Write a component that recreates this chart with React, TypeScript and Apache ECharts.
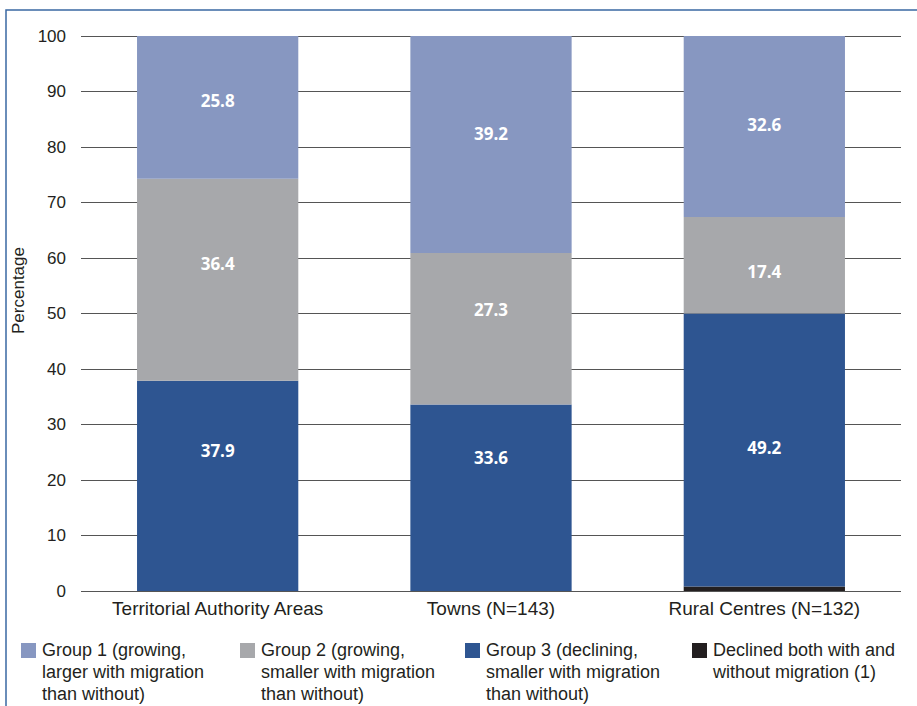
import React, { useEffect, useRef } from "react";
import * as echarts from "echarts";

const categories = ["Territorial Authority Areas", "Towns (N=143)", "Rural Centres (N=132)"];
const seriesNames = [
  "Declined both with and\nwithout migration (1)",
  "Group 3 (declining,\nsmaller with migration\nthan without)",
  "Group 2 (growing,\nsmaller with migration\nthan without)",
  "Group 1 (growing,\nlarger with migration\nthan without)",
];
const declinedBoth = [0, 0, 0.8];
const group3 = [37.9, 33.6, 49.2];
const group2 = [36.4, 27.3, 17.4];
const group1 = [25.8, 39.2, 32.6];
const yTicks = [0, 100, 10];

const colors = ["#231f20", "#2e5591", "#a7a8ab", "#8797c1"];
const labelOffsets = [
  [0, 0, 0],
  [-35, -40, -3],
  [-16, -19, 6],
  [-7, -11, -2],
];
const legendOrder = [3, 2, 1, 0];
const legendX = [21, 240, 465, 692];
const FONT = "'Liberation Sans', Arial, sans-serif";

export default function App() {
  const ref = useRef<HTMLDivElement>(null);
  useEffect(() => {
    document.body.style.margin = "0";
    const chart = echarts.init(ref.current!, undefined, { renderer: "svg" });
    const values = [declinedBoth, group3, group2, group1];
    const series = values.map((vals, si) => ({
      type: "bar",
      name: seriesNames[si],
      stack: "total",
      barWidth: "59%",
      itemStyle: { color: colors[si] },
      data: vals.map((v, ci) => ({
        value: v,
        label: {
          show: si > 0,
          position: "inside",
          offset: [0, labelOffsets[si][ci]],
          color: "#ffffff",
          fontSize: 17,
          fontWeight: "bold",
          fontFamily: "'Open Sans', sans-serif",
          formatter: (p: any) => p.value.toFixed(1),
        },
      })),
    }));
    const legendGraphics: any[] = [];
    legendOrder.forEach((si, i) => {
      legendGraphics.push({
        type: "rect",
        shape: { x: legendX[i], y: 643, width: 15, height: 15 },
        style: { fill: colors[si] },
      });
      legendGraphics.push({
        type: "text",
        x: legendX[i] + 21,
        y: 639,
        style: {
          text: seriesNames[si],
          font: `18px ${FONT}`,
          fill: "#231f20",
          lineHeight: 22,
          verticalAlign: "top",
        },
      });
    });
    chart.setOption({
      animation: false,
      grid: { left: 81, right: 16, top: 36, bottom: 115 },
      xAxis: {
        type: "category",
        data: categories,
        axisLine: { show: false },
        axisTick: { show: false },
        axisLabel: { color: "#231f20", fontSize: 19, fontFamily: FONT, margin: 8, interval: 0 },
      },
      yAxis: {
        type: "value",
        min: yTicks[0],
        max: yTicks[1],
        interval: yTicks[2],
        name: "Percentage",
        nameLocation: "middle",
        nameGap: 50,
        nameTextStyle: {
          color: "#231f20",
          fontSize: 17,
          fontFamily: FONT,
          padding: [0, 0, 0, 46],
        },
        axisLine: { show: false },
        axisTick: { show: false },
        axisLabel: { color: "#231f20", fontSize: 17, fontFamily: FONT, margin: 15 },
        splitLine: { lineStyle: { color: "#555555", width: 1 } },
      },
      series,
      graphic: [
        {
          type: "rect",
          shape: { x: 6, y: 10, width: 1200, height: 1200 },
          style: { fill: "none", stroke: "#3a68a3", lineWidth: 1.5 },
        },
        ...legendGraphics,
      ],
    });
    return () => chart.dispose();
  }, []);
  return <div ref={ref} style={{ width: 917, height: 706, position: "absolute", left: 0, top: 0 }} />;
}
